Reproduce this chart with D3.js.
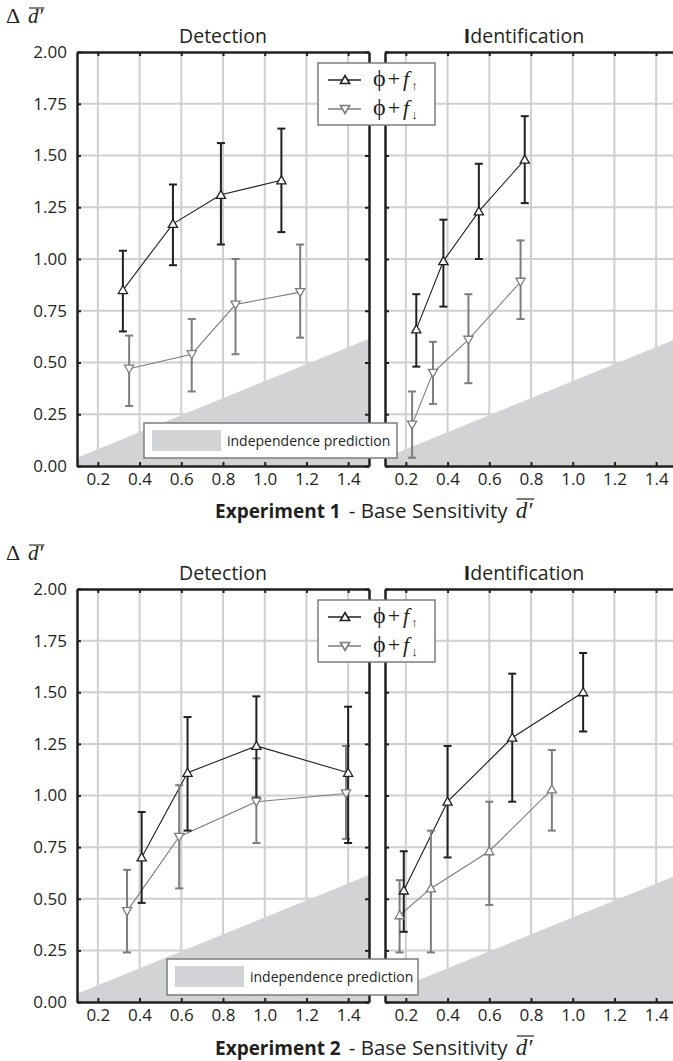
<!DOCTYPE html>
<html><head><meta charset="utf-8">
<script src="https://cdn.jsdelivr.net/npm/d3@7"></script>
<style>body{margin:0;background:#fff;} svg{display:block;}</style>
</head><body><svg id="chart" width="673" height="1061"></svg>
<script>
// ---------- data ----------
const xTickValues = [0.2, 0.4, 0.6, 0.8, 1.0, 1.2, 1.4];
const yTickValues = [0, 0.25, 0.5, 0.75, 1.0, 1.25, 1.5, 1.75, 2.0];
const panelTitles = ["Detection", "Identification"];
const experimentNames = ["Experiment 1", "Experiment 2"];
const axisTitleRest = "- Base Sensitivity";
const predictionLabel = "independence prediction";
const predictionX = [0.1, 1.5];
const predictionY = [0.04, 0.615];

// Experiment 1 - Detection
const e1DetUpX  = [0.32, 0.56, 0.79, 1.08];
const e1DetUpY  = [0.85, 1.17, 1.31, 1.38];
const e1DetUpLo = [0.65, 0.97, 1.07, 1.13];
const e1DetUpHi = [1.04, 1.36, 1.56, 1.63];
const e1DetDnX  = [0.35, 0.65, 0.86, 1.17];
const e1DetDnY  = [0.47, 0.54, 0.78, 0.84];
const e1DetDnLo = [0.29, 0.36, 0.54, 0.62];
const e1DetDnHi = [0.63, 0.71, 1.00, 1.07];
// Experiment 1 - Identification
const e1IdUpX  = [0.25, 0.38, 0.55, 0.77];
const e1IdUpY  = [0.66, 0.99, 1.23, 1.48];
const e1IdUpLo = [0.48, 0.77, 1.00, 1.27];
const e1IdUpHi = [0.83, 1.19, 1.46, 1.69];
const e1IdDnX  = [0.23, 0.33, 0.50, 0.75];
const e1IdDnY  = [0.20, 0.45, 0.61, 0.89];
const e1IdDnLo = [0.04, 0.30, 0.40, 0.71];
const e1IdDnHi = [0.36, 0.60, 0.83, 1.09];
// Experiment 2 - Detection
const e2DetUpX  = [0.41, 0.63, 0.96, 1.40];
const e2DetUpY  = [0.70, 1.11, 1.24, 1.11];
const e2DetUpLo = [0.48, 0.83, 0.99, 0.77];
const e2DetUpHi = [0.92, 1.38, 1.48, 1.43];
const e2DetDnX  = [0.34, 0.59, 0.96, 1.39];
const e2DetDnY  = [0.44, 0.80, 0.97, 1.01];
const e2DetDnLo = [0.24, 0.55, 0.77, 0.79];
const e2DetDnHi = [0.64, 1.05, 1.18, 1.24];
// Experiment 2 - Identification
const e2IdUpX  = [0.19, 0.40, 0.71, 1.05];
const e2IdUpY  = [0.54, 0.97, 1.28, 1.50];
const e2IdUpLo = [0.34, 0.70, 0.97, 1.31];
const e2IdUpHi = [0.73, 1.24, 1.59, 1.69];
const e2IdDnX  = [0.17, 0.32, 0.60, 0.90];
const e2IdDnY  = [0.42, 0.55, 0.73, 1.03];
const e2IdDnLo = [0.24, 0.24, 0.47, 0.83];
const e2IdDnHi = [0.59, 0.83, 0.97, 1.22];

// ---------- style ----------
const SANS = "'Open Sans', 'Noto Sans', sans-serif";
const SERIF = "'Liberation Serif', 'DejaVu Serif', serif";
const INK = "#231f20";
const GRAY = "#7d7d7d";
const GRID = "#cfcfcf";
const FILL = "#d1d3d4";

const svg = d3.select("#chart");
svg.append("rect").attr("width", 673).attr("height", 1061).attr("fill", "#fff");

const xLeft = d3.scaleLinear().domain([0.1, 1.5]).range([77, 369]);
const xRight = d3.scaleLinear().domain([0.1, 1.5]).range([385, 677]);
const yTop = d3.scaleLinear().domain([0, 2]).range([466, 52]);
const yBot = d3.scaleLinear().domain([0, 2]).range([1002, 589]);

const zip = (xs, ys, lo, hi) => xs.map((v, i) => ({x: v, y: ys[i], lo: lo[i], hi: hi[i]}));

const panels = [
  {x: xLeft, y: yTop, left: true, up: zip(e1DetUpX, e1DetUpY, e1DetUpLo, e1DetUpHi), dn: zip(e1DetDnX, e1DetDnY, e1DetDnLo, e1DetDnHi), dnShape: "down"},
  {x: xRight, y: yTop, left: false, up: zip(e1IdUpX, e1IdUpY, e1IdUpLo, e1IdUpHi), dn: zip(e1IdDnX, e1IdDnY, e1IdDnLo, e1IdDnHi), dnShape: "down"},
  {x: xLeft, y: yBot, left: true, up: zip(e2DetUpX, e2DetUpY, e2DetUpLo, e2DetUpHi), dn: zip(e2DetDnX, e2DetDnY, e2DetDnLo, e2DetDnHi), dnShape: "down"},
  {x: xRight, y: yBot, left: false, up: zip(e2IdUpX, e2IdUpY, e2IdUpLo, e2IdUpHi), dn: zip(e2IdDnX, e2IdDnY, e2IdDnLo, e2IdDnHi), dnShape: "up"}
];

function tri(shape, cx, cy) {
  const s = 4.6, h = 4.0;
  if (shape === "up") return `M${cx},${cy - h - 0.5}L${cx + s},${cy + h - 0.5}L${cx - s},${cy + h - 0.5}Z`;
  return `M${cx},${cy + h + 0.5}L${cx + s},${cy - h + 0.5}L${cx - s},${cy - h + 0.5}Z`;
}

panels.forEach(p => {
  const g = svg.append("g");
  const [x0, x1] = p.x.range();
  const [yb, yt] = p.y.range();
  g.selectAll(".gx").data(xTickValues).join("line")
    .attr("x1", d => p.x(d)).attr("x2", d => p.x(d)).attr("y1", yb).attr("y2", yt)
    .attr("stroke", GRID).attr("stroke-width", 2);
  g.selectAll(".gy").data(yTickValues.slice(1, -1)).join("line")
    .attr("x1", x0).attr("x2", x1).attr("y1", d => p.y(d)).attr("y2", d => p.y(d))
    .attr("stroke", GRID).attr("stroke-width", 2);
  const area = d3.area().x(d => p.x(d[0])).y0(p.y(0)).y1(d => p.y(d[1]));
  g.append("path").datum(predictionX.map((v, i) => [v, predictionY[i]]))
    .attr("d", area).attr("fill", FILL);
  const line = d3.line().x(d => p.x(d.x)).y(d => p.y(d.y));
  [[p.dn, GRAY], [p.up, INK]].forEach(([data, col]) => {
    g.append("path").datum(data).attr("d", line).attr("fill", "none").attr("stroke", col).attr("stroke-width", 1.1);
  });
  [[p.dn, GRAY], [p.up, INK]].forEach(([data, col]) => {
    const eb = g.append("g").attr("stroke", col).attr("stroke-width", 2).attr("fill", "none");
    data.forEach(d => {
      const cx = p.x(d.x);
      eb.append("line").attr("x1", cx).attr("x2", cx).attr("y1", p.y(d.lo)).attr("y2", p.y(d.hi));
      eb.append("line").attr("x1", cx - 4).attr("x2", cx + 4).attr("y1", p.y(d.lo)).attr("y2", p.y(d.lo));
      eb.append("line").attr("x1", cx - 4).attr("x2", cx + 4).attr("y1", p.y(d.hi)).attr("y2", p.y(d.hi));
    });
  });
  [[p.dn, GRAY, p.dnShape], [p.up, INK, "up"]].forEach(([data, col, shape]) => {
    g.selectAll(null).data(data).join("path")
      .attr("d", d => tri(shape, p.x(d.x), p.y(d.y)))
      .attr("fill", "#fff").attr("stroke", col).attr("stroke-width", 1.3);
  });
  const styleAxis = sel => {
    sel.select(".domain").attr("stroke", INK).attr("stroke-width", 2.5);
    sel.selectAll(".tick line").attr("stroke", INK).attr("stroke-width", 2);
    sel.selectAll("text").attr("fill", INK).attr("font-family", SANS).attr("font-size", 17);
    sel.attr("font-family", null).attr("font-size", null);
  };
  g.append("g").attr("transform", `translate(0,${yb})`)
    .call(d3.axisBottom(p.x).tickValues(xTickValues).tickFormat(d3.format(".1f")).tickSize(-4).tickSizeOuter(0).tickPadding(7))
    .call(styleAxis);
  g.append("g").attr("transform", `translate(0,${yt})`)
    .call(d3.axisTop(p.x).tickValues(xTickValues).tickFormat("").tickSize(-4).tickSizeOuter(0))
    .call(styleAxis);
  g.append("g").attr("transform", `translate(${x0},0)`)
    .call(d3.axisLeft(p.y).tickValues(yTickValues).tickFormat(p.left ? d3.format(".2f") : "").tickSize(-4).tickSizeOuter(0).tickPadding(10))
    .call(styleAxis);
  if (p.left) {
    g.append("g").attr("transform", `translate(${x1},0)`)
      .call(d3.axisRight(p.y).tickValues(yTickValues).tickFormat("").tickSize(-4).tickSizeOuter(0))
      .call(styleAxis);
  }
});

// ---------- texts per experiment ----------
[0, 1].forEach(k => {
  const off = k === 0 ? 0 : 537;
  // Y label: Delta d'
  const yl = svg.append("g");
  yl.append("text").attr("x", 6).attr("y", 23 + off).attr("font-family", SERIF).attr("font-size", 22).attr("fill", INK).text("Δ");
  const dt = yl.append("text").attr("x", 28).attr("y", 23 + off).attr("font-family", SERIF).attr("font-size", 21)
    .attr("font-style", "italic").attr("fill", INK).text("d′");
  const bb = dt.node().getBBox();
  yl.append("line").attr("x1", bb.x + 1).attr("x2", bb.x + bb.width + 1).attr("y1", 8 + off).attr("y2", 8 + off)
    .attr("stroke", INK).attr("stroke-width", 1.1);

  // panel titles
  svg.append("text").attr("x", 223).attr("y", 43 + off).attr("text-anchor", "middle")
    .attr("font-family", SANS).attr("font-size", 19.5).attr("fill", INK).text(panelTitles[0]);
  const t2 = svg.append("text").attr("x", 524).attr("y", 43 + off).attr("text-anchor", "middle")
    .attr("font-family", SANS).attr("font-size", 19.5).attr("fill", INK);
  t2.append("tspan").attr("font-weight", "bold").text(panelTitles[1].slice(0, 1));
  t2.append("tspan").text(panelTitles[1].slice(1));

  // x axis title
  const a1 = svg.append("text").attr("x", 215).attr("y", 518 + off).attr("font-family", SANS).attr("font-size", 19)
    .attr("font-weight", "bold").attr("fill", INK).text(experimentNames[k]);
  const w1 = a1.node().getComputedTextLength();
  const a2 = svg.append("text").attr("x", 215 + w1 + 8).attr("y", 518 + off).attr("font-family", SANS).attr("font-size", 20.5)
    .attr("fill", INK).text(axisTitleRest);
  const w2 = a2.node().getComputedTextLength();
  const dd = svg.append("text").attr("x", 215 + w1 + 8 + w2 + 8).attr("y", 518 + off).attr("font-family", SERIF).attr("font-size", 23)
    .attr("font-style", "italic").attr("fill", INK).text("d′");
  const b2 = dd.node().getBBox();
  svg.append("line").attr("x1", b2.x + 1).attr("x2", b2.x + b2.width + 1).attr("y1", 499 + off).attr("y2", 499 + off)
    .attr("stroke", INK).attr("stroke-width", 1.2);

  // series legend
  const lg = svg.append("g");
  lg.append("rect").attr("x", 318).attr("y", 63 + off).attr("width", 117).attr("height", 62)
    .attr("fill", "#fff").attr("stroke", GRAY).attr("stroke-width", 1.5);
  [[80, INK, "up", "↑"], [109, GRAY, "down", "↓"]].forEach(([ry, col, shape, arr]) => {
    lg.append("line").attr("x1", 328).attr("x2", 361).attr("y1", ry + off).attr("y2", ry + off).attr("stroke", col).attr("stroke-width", 1.6);
    lg.append("path").attr("d", tri(shape, 345, ry + off)).attr("fill", "#fff").attr("stroke", col).attr("stroke-width", 1.6);
    const lt = lg.append("text").attr("x", 373).attr("y", ry + 6 + off).attr("font-family", SERIF).attr("font-size", 22).attr("fill", INK);
    lt.append("tspan").attr("font-size", 24).text("ϕ");
    lt.append("tspan").attr("dx", 2).text("+");
    lt.append("tspan").attr("font-style", "italic").attr("dx", 3).text("f");
    lt.append("tspan").attr("font-size", 13).attr("dy", 4).attr("dx", 2).text(arr);
  });

  // prediction legend
  const pl = svg.append("g");
  const box = k === 0 ? {x: 144, y: 423, w: 253, h: 35} : {x: 167, y: 959, w: 251, h: 36};
  pl.append("rect").attr("x", box.x).attr("y", box.y).attr("width", box.w).attr("height", box.h)
    .attr("fill", "#fff").attr("stroke", GRAY).attr("stroke-width", 1.5);
  pl.append("rect").attr("x", box.x + 8).attr("y", box.y + 7).attr("width", 69).attr("height", 21).attr("fill", FILL);
  pl.append("text").attr("x", box.x + 83).attr("y", box.y + 23).attr("font-family", SANS).attr("font-size", 14)
    .attr("fill", INK).text(predictionLabel);
});
</script>
</body></html>
